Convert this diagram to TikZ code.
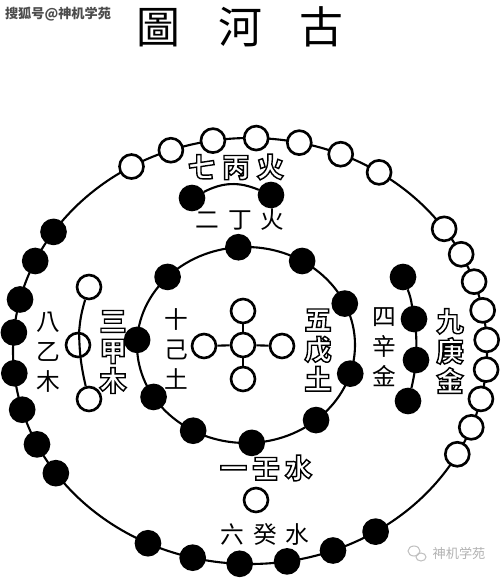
\documentclass[tikz,border=0pt]{standalone}
\usepackage{fontspec}
\newfontfamily\tcfont{Noto Sans CJK TC}
\newfontfamily\scfont{Noto Sans CJK SC}
% hollow text: fill white, stroke black
\newcommand{\hollow}[1]{\special{pdf:literal direct 2 Tr 0.8 w 0 G}#1\special{pdf:literal direct 0 Tr}}

\tikzset{
  bead/.style={circle, draw, line width=1.5pt, minimum size=0.48cm, inner sep=0pt},
  yang/.style={bead, fill=white},
  yin/.style={bead, fill=black},
  yinlbl/.style={font=\tcfont\fontsize{13.5}{17}\selectfont, align=center, inner sep=0pt},
  yanglbl/.style={font=\tcfont\bfseries\fontsize{15.5}{17}\selectfont, text=white, align=center, inner sep=0pt},
  link/.style={line width=1.2pt}
}

\begin{document}
\begin{tikzpicture}[x=0.02cm, y=-0.02cm]
    \useasboundingbox (0,0) rectangle (500,580);

    % watermarks
    \node (wmtop) [at={(58,14)}, font=\scfont\bfseries\fontsize{7.5}{9}\selectfont, text=black!70] {搜狐号@神机学苑};
    \draw[black!25, line width=0.6pt] (414,551) ellipse[x radius=6, y radius=5];
    \draw[black!25, line width=0.6pt] (421,557) ellipse[x radius=5, y radius=4];
    \node (wmbot) [at={(459,553)}, font=\scfont\fontsize{7.5}{9}\selectfont, text=black!30] {神机学苑};

    % title
    \node (title) [at={(240,27)}, font=\tcfont\fontsize{25}{30}\selectfont] {圖\hspace{0.76cm}河\hspace{0.76cm}古};

    % outer ring
    \draw[link] (250,351) ellipse[x radius=237, y radius=213];
    \begin{scope}[shift={(250,351)}]
        % seven on top
        \foreach \a [count=\i] in {-120,-109.5,-99,-88.5,-78,-67.5,-57}
            \node (s\i) [yang, at={(\a:237 and 213)}] {};
        % nine on the right
        \foreach \a [count=\i] in {-35,-27,-19,-11,-3,5,13,21,29}
            \node (n\i) [yang, at={(\a:237 and 213)}] {};
        % eight on the left
        \foreach \a [count=\i] in {145,154,164,174,185,194,205,214}
            \node (e\i) [yin, at={(\a:237 and 213)}] {};
        % six at the bottom
        \foreach \a [count=\i] in {58,69.5,81,92.5,104,115.5}
            \node (x\i) [yin, at={(\a:237 and 213)}] {};
    \end{scope}

    % inner ring, ten
    \draw[link] (246,345) ellipse[x radius=109, y radius=98];
    \begin{scope}[shift={(246,345)}]
        \foreach \a [count=\i] in {-94,-59,-25,17,50,87,119,148,183,224}
            \node (t\i) [yin, at={(\a:109 and 98)}] {};
    \end{scope}

    % centre, five
    \node (c0) [yang, at={(243,345)}] {};
    \node (cn) [yang, at={(243,311)}] {};
    \node (cs) [yang, at={(243,379)}] {};
    \node (cw) [yang, at={(204,346)}] {};
    \node (ce) [yang, at={(282,346)}] {};
    \foreach \n in {cn,cs,cw,ce}
        \draw[link] (c0) -- (\n);

    % two
    \node (d2a) [yin, at={(192,198)}] {};
    \node (d2b) [yin, at={(271,195)}] {};
    \draw[link] (d2a) to[bend left=25] (d2b);

    % three
    \node (w3a) [yang, at={(89,287)}] {};
    \node (w3b) [yang, at={(78,345)}] {};
    \node (w3c) [yang, at={(89,399)}] {};
    \draw[link] (w3a) to[bend right=6] (w3b) to[bend right=6] (w3c);

    % four
    \node (y4a) [yin, at={(403,277)}] {};
    \node (y4b) [yin, at={(414,319)}] {};
    \node (y4c) [yin, at={(416,360)}] {};
    \node (y4d) [yin, at={(408,401)}] {};
    \draw[link] (y4a) to[bend left=6] (y4b) to[bend left=6] (y4c) to[bend left=6] (y4d);

    % one
    \node (w1) [yang, at={(256,500)}] {};

    % labels
    \node (l7) [yanglbl, at={(236,167)}] {\hollow{七\hspace{4pt}丙\hspace{4pt}火}};
    \node (l2) [yinlbl, at={(240,220)}] {二\hspace{5pt}丁\hspace{5pt}火};
    \node (l8) [yinlbl, at={(48,352)}] {八\\乙\\木};
    \node (l3) [yanglbl, at={(113,352)}] {\hollow{三}\\\hollow{甲}\\\hollow{木}};
    \node (l10) [yinlbl, at={(176,349)}] {十\\己\\土};
    \node (l5) [yanglbl, at={(318,350)}] {\hollow{五}\\\hollow{戊}\\\hollow{土}};
    \node (l4) [yinlbl, at={(384,347)}] {四\\辛\\金};
    \node (l9) [yanglbl, at={(450,351)}] {\hollow{九}\\\hollow{庚}\\\hollow{金}};
    \node (l1) [yanglbl, at={(266,468)}] {\hollow{一\hspace{3pt}壬\hspace{3pt}水}};
    \node (l6) [yinlbl, at={(265,534)}] {六\hspace{5pt}癸\hspace{5pt}水};
\end{tikzpicture}
\end{document}
